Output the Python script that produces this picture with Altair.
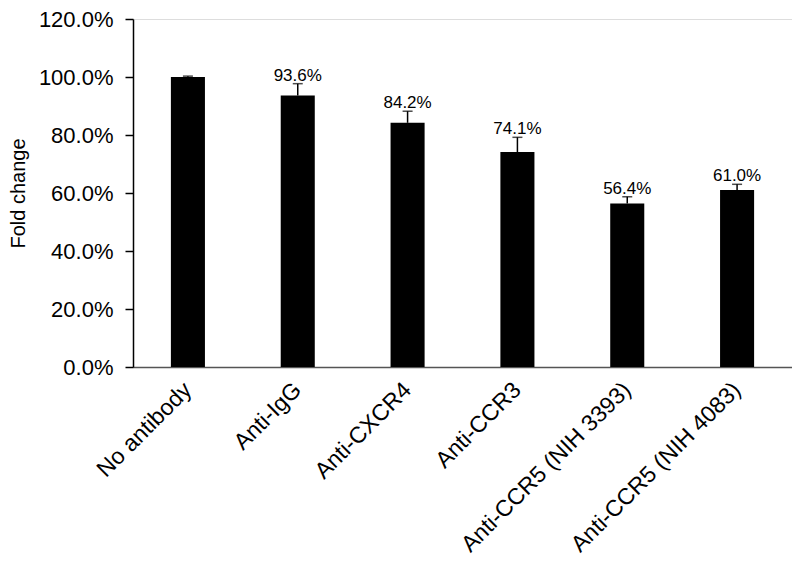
import altair as alt
import pandas as pd

categories = ["No antibody", "Anti-IgG", "Anti-CXCR4", "Anti-CCR3",
              "Anti-CCR5 (NIH 3393)", "Anti-CCR5 (NIH 4083)"]
values = [1.000, 0.936, 0.842, 0.741, 0.564, 0.610]
errors = [0.003, 0.041, 0.040, 0.051, 0.023, 0.020]
labels = ["", "93.6%", "84.2%", "74.1%", "56.4%", "61.0%"]
y_ticks = [0.0, 0.2, 0.4, 0.6, 0.8, 1.0, 1.2]

df = pd.DataFrame({
    "cat": categories,
    "val": values,
    "top": [v + e for v, e in zip(values, errors)],
    "lab": labels,
})

FONT = "Liberation Sans"

x_enc = alt.X(
    "cat:N", sort=categories, title=None,
    scale=alt.Scale(paddingInner=0.69, paddingOuter=0.345),
    axis=alt.Axis(labelAngle=-45, labelAlign="right", labelBaseline="middle",
                  labelFontSize=23, labelFont=FONT, labelColor="black",
                  labelPadding=19, ticks=False, domainColor="#555555",
                  domainWidth=1.5, labelLimit=400),
)
y_scale = alt.Scale(domain=[0, 1.2], nice=False)

bars = alt.Chart(df).mark_bar(color="black").encode(
    x=x_enc,
    y=alt.Y("val:Q", scale=y_scale, title="Fold change",
            axis=alt.Axis(values=y_ticks, format=".1%", grid=False,
                          tickSize=8, tickColor="black", tickWidth=1.5,
                          domainColor="black", domainWidth=1.5,
                          labelFontSize=22, labelFont=FONT, labelColor="black",
                          labelPadding=12, titleFontSize=20, titleFont=FONT,
                          titleFontWeight="normal", titleColor="black",
                          titlePadding=10)),
)

err = alt.Chart(df).mark_rule(color="black", strokeWidth=1.5).encode(
    x=alt.X("cat:N", sort=categories),
    y=alt.Y("val:Q", scale=y_scale),
    y2="top:Q",
)

caps = alt.Chart(df).mark_tick(color="black", thickness=1.5, size=10,
                               orient="horizontal").encode(
    x=alt.X("cat:N", sort=categories),
    y=alt.Y("top:Q", scale=y_scale),
)

text = alt.Chart(df).mark_text(baseline="bottom", dy=1, fontSize=17,
                               font=FONT, color="black").encode(
    x=alt.X("cat:N", sort=categories),
    y=alt.Y("top:Q", scale=y_scale),
    text="lab:N",
)

chart = alt.layer(bars, err, caps, text).properties(
    width=659, height=348,
    autosize=alt.AutoSizeParams(type="none"),
    padding={"left": 125, "top": 11, "right": 0, "bottom": 190},
).configure_view(stroke=None).configure(background="white")

chart.save("out.html", embed_options={"renderer": "svg", "actions": False})
